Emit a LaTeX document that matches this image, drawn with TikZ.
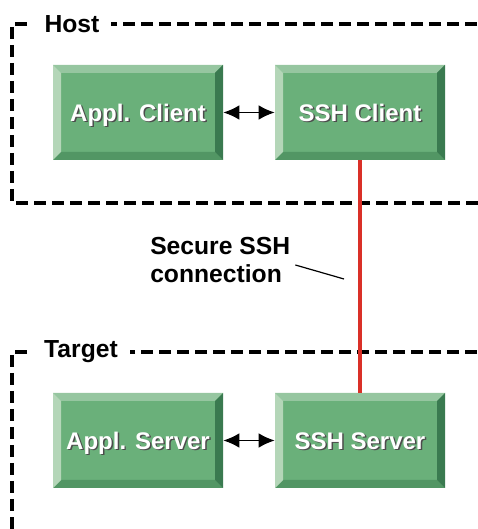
\documentclass[tikz,border=0pt]{standalone}
\usepackage{fontspec}
\setmainfont{Liberation Sans}
\usetikzlibrary{arrows.meta}

% bevel colours of the green boxes
\definecolor{boxmid}{RGB}{106,176,122}
\definecolor{bevtop}{RGB}{150,198,160}
\definecolor{bevleft}{RGB}{180,214,184}
\definecolor{bevright}{RGB}{58,122,80}
\definecolor{bevbottom}{RGB}{82,150,100}
\definecolor{sshred}{RGB}{218,48,40}

\newcommand{\shadowed}[1]{\rlap{\kern1.1pt\raisebox{-1.1pt}{\textcolor{black!70}{#1}}}\textcolor{white}{#1}}
\newcommand{\bw}{6pt}

\begin{document}
\begin{tikzpicture}[
    x=0.75pt, y=0.75pt,
    frame/.style={line width=2.5pt, dash pattern=on 9pt off 4.5pt},
    framelabel/.style={fill=white, inner xsep=9pt, inner ysep=2pt, font=\fontsize{18.5}{22}\selectfont\bfseries},
    bevelbox/.style={minimum width=127.5pt, minimum height=71.25pt, fill=boxmid,
      text height=13.2pt, text depth=0pt,
      font=\fontsize{18}{22}\selectfont\bfseries,
      path picture={
        \coordinate (bnw) at (path picture bounding box.north west);
        \coordinate (bne) at (path picture bounding box.north east);
        \coordinate (bsw) at (path picture bounding box.south west);
        \coordinate (bse) at (path picture bounding box.south east);
        \fill[bevtop] (bnw) -- (bne) -- ([shift={(-\bw,-\bw)}]bne) -- ([shift={(\bw,-\bw)}]bnw) -- cycle;
        \fill[bevbottom] (bsw) -- (bse) -- ([shift={(-\bw,\bw)}]bse) -- ([shift={(\bw,\bw)}]bsw) -- cycle;
        \fill[bevleft] (bnw) -- (bsw) -- ([shift={(\bw,\bw)}]bsw) -- ([shift={(\bw,-\bw)}]bnw) -- cycle;
        \fill[bevright] (bne) -- (bse) -- ([shift={(-\bw,\bw)}]bse) -- ([shift={(-\bw,-\bw)}]bne) -- cycle;
      }},
    link/.style={{Latex[length=12pt,width=11pt]}-{Latex[length=12pt,width=11pt]}, line width=1.3pt},
    sshline/.style={sshred, line width=2.8pt},
    note/.style={align=left, inner sep=0pt, font=\fontsize{18.5}{20.5}\selectfont\bfseries},
    pointer/.style={line width=0.9pt}
  ]

    \useasboundingbox (0,0) rectangle (478,529);
    \clip (0,0) rectangle (478,529);

    % Host and Target frames, open to the right
    \draw[frame] (495,505) -- (12,505) -- (12,326) -- (495,326);
    \draw[frame] (495,177) -- (12,177) -- (12,-20);
    \node[framelabel] (host) at (72,505) {Host};
    \node[framelabel] (target) at (81,177) {Target};

    % the four boxes
    \foreach \name/\xx/\yy/\txt in {aclient/138/416.5/Appl. Client, sclient/360/416.5/SSH Client,
                                   aserver/138/88.5/Appl. Server, sserver/360/88.5/SSH Server} {
      \node[bevelbox] (\name) at (\xx,\yy) {\shadowed{\txt}};
    }

    % local links and the SSH connection
    \draw[link] (aclient) -- (sclient);
    \draw[link] (aserver) -- (sserver);
    \draw[sshline] (sclient) -- (sserver);

    % annotation
    \node[note, anchor=west] (sshnote) at (150,269) {Secure SSH\\connection};
    \coordinate (tail) at ([shift={(5,-5)}]sshnote.east);
    \coordinate (tip) at (344,250);
    \draw[pointer] (tail) -- (tip);

\end{tikzpicture}
\end{document}
